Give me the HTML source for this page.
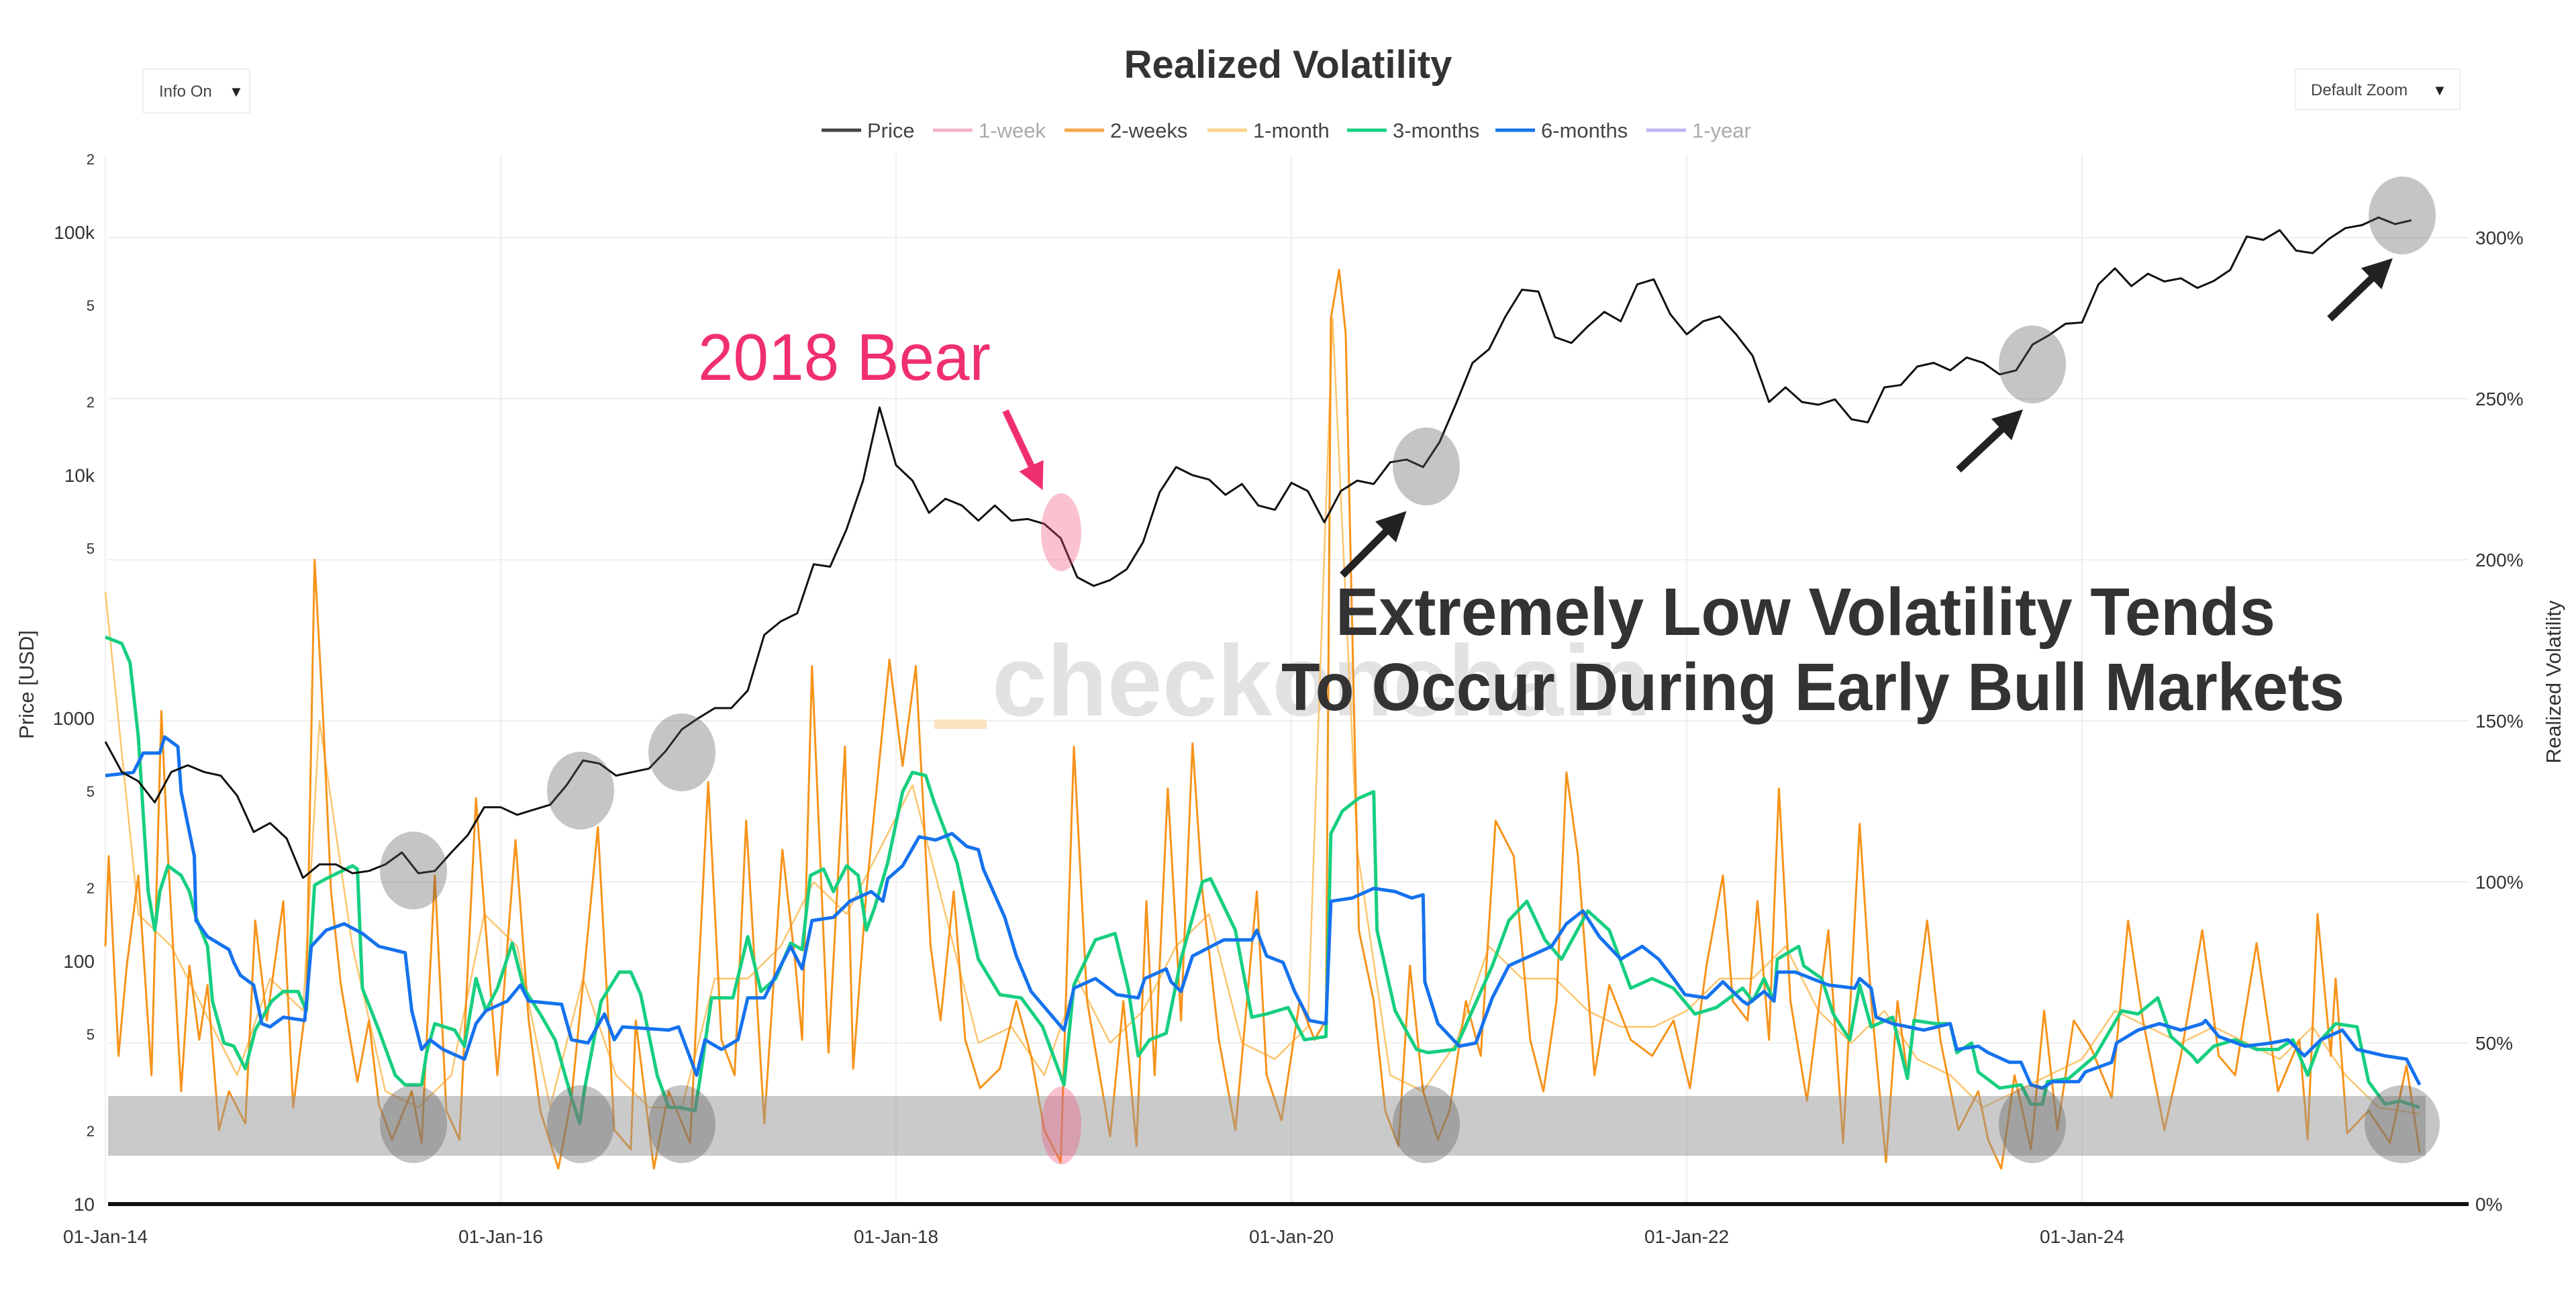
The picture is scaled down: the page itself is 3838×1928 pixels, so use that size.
<!DOCTYPE html>
<html><head><meta charset="utf-8"><title>Realized Volatility</title>
<style>
html,body{margin:0;padding:0;background:#fff;}
svg{display:block;font-family:"Liberation Sans",Arial,sans-serif;}
</style></head>
<body>
<svg id="chart" xmlns="http://www.w3.org/2000/svg" width="3838" height="1928" viewBox="0 0 3838 1928">
<rect x="0" y="0" width="3838" height="1928" fill="#fff"/>
<g id="grid"></g>
<text x="1478" y="1066" font-size="150" font-weight="bold" fill="#e2e2e2" textLength="982" lengthAdjust="spacingAndGlyphs">checkonchain</text>
<rect x="1392" y="1072" width="78" height="14" fill="#fde3c0"/>
<g id="series"></g>
<rect x="161" y="1633" width="3453" height="89" fill="rgba(150,150,150,0.5)"/>
<g id="marks">
<ellipse cx="616" cy="1297" rx="50" ry="58" fill="rgba(90,90,90,0.35)"/>
<ellipse cx="865" cy="1178" rx="50" ry="58" fill="rgba(90,90,90,0.35)"/>
<ellipse cx="1016" cy="1121" rx="50" ry="58" fill="rgba(90,90,90,0.35)"/>
<ellipse cx="2125" cy="695" rx="50" ry="58" fill="rgba(90,90,90,0.35)"/>
<ellipse cx="3028" cy="543" rx="50" ry="58" fill="rgba(90,90,90,0.35)"/>
<ellipse cx="3579" cy="321" rx="50" ry="58" fill="rgba(90,90,90,0.35)"/>
<ellipse cx="616" cy="1675" rx="50" ry="58" fill="rgba(90,90,90,0.35)"/>
<ellipse cx="865" cy="1675" rx="50" ry="58" fill="rgba(90,90,90,0.35)"/>
<ellipse cx="1016" cy="1675" rx="50" ry="58" fill="rgba(90,90,90,0.35)"/>
<ellipse cx="2125" cy="1675" rx="50" ry="58" fill="rgba(90,90,90,0.35)"/>
<ellipse cx="3028" cy="1675" rx="50" ry="58" fill="rgba(90,90,90,0.35)"/>
<ellipse cx="3579" cy="1675" rx="56" ry="58" fill="rgba(90,90,90,0.35)"/>
<ellipse cx="1581" cy="793" rx="30" ry="58" fill="rgba(240,80,120,0.35)"/>
<ellipse cx="1581" cy="1677" rx="30" ry="58" fill="rgba(240,80,120,0.35)"/>
</g>
<line x1="161" y1="1794" x2="3678" y2="1794" stroke="#111" stroke-width="6"/>
<g id="axes"></g>
<text x="1919" y="116" font-size="58" font-weight="bold" fill="#333" text-anchor="middle">Realized Volatility</text>
<g>
<rect x="213" y="103" width="159" height="65" fill="#fff" stroke="#f0f0f0" stroke-width="2"/>
<text x="237" y="144" font-size="24" fill="#444">Info On</text>
<text x="341" y="144" font-size="22" fill="#222">▼</text>
</g>
<g>
<rect x="3420" y="103" width="245" height="60" fill="#fff" stroke="#f0f0f0" stroke-width="2"/>
<text x="3443" y="142" font-size="24" fill="#444">Default Zoom</text>
<text x="3624" y="142" font-size="22" fill="#222">▼</text>
</g>
<g id="legend"></g>
<text x="1040" y="566" font-size="98" fill="#f0306e" textLength="436" lengthAdjust="spacingAndGlyphs">2018 Bear</text>
<text x="1990" y="946" font-size="100" font-weight="bold" fill="#333" textLength="1400" lengthAdjust="spacingAndGlyphs">Extremely Low Volatility Tends</text>
<text x="1909" y="1058" font-size="100" font-weight="bold" fill="#333" textLength="1584" lengthAdjust="spacingAndGlyphs">To Occur During Early Bull Markets</text>
<defs>
<marker id="ah" markerWidth="4" markerHeight="4" refX="2" refY="2" orient="auto"><path d="M0,0 L4,2 L0,4 Z" fill="#222"/></marker>
<marker id="ahp" markerWidth="4" markerHeight="4" refX="2" refY="2" orient="auto"><path d="M0,0 L4,2 L0,4 Z" fill="#f0306e"/></marker>
</defs>
<line x1="2000" y1="857" x2="2080" y2="777" stroke="#222" stroke-width="11" marker-end="url(#ah)"/>
<line x1="2918" y1="700" x2="2998" y2="625" stroke="#222" stroke-width="11" marker-end="url(#ah)"/>
<line x1="3471" y1="475" x2="3549" y2="400" stroke="#222" stroke-width="11" marker-end="url(#ah)"/>
<line x1="1498" y1="612" x2="1545" y2="712" stroke="#f0306e" stroke-width="10" marker-end="url(#ahp)"/>
<text transform="translate(50,1020) rotate(-90)" font-size="31" fill="#333" text-anchor="middle">Price [USD]</text>
<text transform="translate(3815,1016) rotate(-90)" font-size="31" fill="#333" text-anchor="middle">Realized Volatility</text>
</svg>
<script>
// x data: months since 01-Jan-14
const priceMonths = [0,1,2,3,4,5,6,7,8,9,10,11,12,13,14,15,16,17,18,19,20,21,22,23,24,25,26,27,28,29,30,31,32,33,34,35,36,37,38,39,40,41,42,43,44,45,46,47,48,49,50,51,52,53,54,55,56,57,58,59,60,61,62,63,64,65,66,67,68,69,70,71,72,73,74,75,76,77,78,79,80,81,82,83,84,85,86,87,88,89,90,91,92,93,94,95,96,97,98,99,100,101,102,103,104,105,106,107,108,109,110,111,112,113,114,115,116,117,118,119,120,121,122,123,124,125,126,127,128,129,130,131,132,133,134,135,136,137,138,139,140];
const priceValues = [800,600,550,450,600,640,600,580,480,340,370,320,
220,250,250,230,235,250,280,230,235,280,330,430,
430,400,420,440,530,670,650,580,600,620,730,900,
1000,1100,1100,1300,2200,2500,2700,4300,4200,6000,9500,19000,
11000,9500,7000,8000,7500,6500,7500,6500,6600,6300,5500,3800,
3500,3700,4100,5300,8500,10800,10000,9600,8300,9200,7500,7200,
9300,8600,6400,8600,9500,9200,11300,11600,10800,13700,19700,29000,
33000,45000,58000,57000,37000,35000,41000,47000,43000,61000,64000,46000,
38000,43000,45000,38000,31000,20000,23000,20000,19500,20500,17000,16500,
23000,23500,28000,29000,27000,30500,29000,26000,27000,34500,37700,42000,
42500,61000,71000,60000,67500,62700,64600,59000,63000,70000,96000,93000,
102000,84000,82000,94000,104000,107000,115000,108000,112000];

const sixMonthMonths = [0,1.7,2.3,3.3,3.6,4.4,4.6,5.4,5.5,6.2,7.5,7.8,8.2,9.0,9.5,10.0,10.8,12.1,12.5,13.4,14.5,15.6,16.6,18.2,18.6,19.2,19.7,20.5,21.8,22.5,23.1,24.4,25.2,25.7,27.7,28.3,29.3,30.3,30.9,31.4,34.2,34.8,35.9,36.4,37.4,38.4,39.0,40.0,41.6,42.3,42.9,44.2,45.2,46.5,47.2,47.5,48.4,49.4,50.4,51.4,52.3,53.0,53.3,54.6,55.3,56.2,57.2,58.2,58.8,60.1,61.4,62.7,63.1,64.4,64.7,65.3,66.0,67.9,69.6,69.9,70.5,71.5,72.2,73.1,74.1,74.4,75.7,77.0,78.3,79.3,80.0,80.1,80.9,82.2,83.2,84.2,85.2,86.5,87.8,88.7,89.7,90.7,92.0,93.3,94.3,95.2,95.9,97.2,98.2,99.4,99.7,100.7,101.3,101.5,102.6,103.6,104.6,106.2,106.5,107.2,107.5,108.5,110.4,112.0,112.4,113.7,114.3,115.6,116.3,116.9,117.6,118.2,119.8,120.2,121.8,122.1,123.4,124.7,126.0,127.3,127.5,128.3,129.9,131.5,132.5,133.5,134.5,135.8,136.7,138.4,139.7,140.0,140.5];
const sixMonthValues = [133,134,140,140,145,142,128,108,88,83,79,75,71,68,56,55,58,57,80,85,87,84,80,78,60,48,51,48,45,56,60,63,68,63,62,51,50,59,51,55,54,55,40,51,48,51,64,64,80,73,88,89,94,97,94,101,105,114,113,115,111,110,104,89,77,66,60,54,67,70,65,64,70,73,69,66,77,82,82,85,77,75,66,57,56,94,95,98,97,95,96,69,56,49,50,64,74,77,80,87,91,83,76,80,76,70,65,64,69,63,62,66,63,72,72,70,68,67,70,67,58,56,54,56,48,49,47,44,44,37,36,38,38,41,44,50,54,56,54,56,57,52,49,50,51,46,51,54,48,46,45,42,37];

const threeMonthMonths = [0,1.0,1.5,2.0,2.6,3.0,3.3,3.8,4.6,5.1,5.5,6.2,6.5,7.2,7.8,8.5,9.1,10.1,10.8,11.7,12.2,12.7,13.4,15.0,15.3,15.6,16.6,17.6,18.2,19.2,19.5,20.0,21.2,21.8,22.5,23.1,23.8,24.7,25.4,26.4,27.3,28.3,28.8,29.1,30.1,31.2,31.9,32.5,33.5,34.2,34.8,35.8,36.1,36.8,38.1,39.0,39.8,40.7,41.6,42.3,42.8,43.6,44.2,45.0,45.7,46.2,46.7,47.5,48.4,49.0,49.8,50.3,51.7,53.0,54.3,55.6,56.9,58.2,58.8,60.1,61.3,62.1,62.7,63.4,64.4,65.3,66.6,67.1,68.6,69.6,70.5,71.8,72.8,74.1,74.4,75.1,76.1,77.0,77.2,78.3,79.6,80.3,81.9,82.2,84.2,85.2,86.3,87.4,88.4,90.0,91.3,92.6,93.9,95.2,96.5,97.8,99.4,100.0,100.7,101.3,101.5,102.8,103.1,104.2,104.9,105.9,106.5,107.2,108.5,109.4,109.8,111.1,112.0,112.4,113.3,113.7,115.0,116.3,116.9,117.6,117.9,119.2,120.8,122.4,123.4,124.6,125.4,126.7,127.0,128.0,129.3,130.6,131.9,132.8,133.7,134.5,135.4,136.7,137.4,138.4,139.3,140.5];
const threeMonthValues = [176,174,168,145,97,85,97,105,102,97,89,80,63,50,49,42,54,63,66,66,60,99,101,105,104,67,54,40,37,37,47,56,54,49,70,60,67,81,67,59,51,33,25,36,63,72,72,65,40,30,30,29,39,64,64,83,66,70,81,79,102,104,97,105,102,85,92,106,128,134,133,125,106,76,65,64,55,37,68,82,84,67,46,51,53,76,100,101,85,58,59,61,51,52,115,122,126,128,85,60,48,47,48,51,74,88,94,82,76,91,85,67,70,67,59,61,67,63,70,63,76,80,74,70,59,51,68,55,58,39,57,56,56,47,50,41,36,37,31,31,38,39,46,60,59,64,52,46,44,49,51,48,48,51,40,51,56,55,38,31,32,30];

const twoWeekMonths = [0,0.2,0.8,1.3,2.0,2.8,3.4,3.8,4.6,5.1,5.7,6.2,6.9,7.5,8.5,9.1,9.8,10.8,11.4,12.2,12.7,13.2,13.7,14.3,15.3,16.0,16.6,17.4,18.6,19.2,20.0,20.7,21.5,22.5,23.1,23.8,24.9,25.7,26.4,27.5,28.3,29.1,29.9,30.6,30.9,31.9,32.2,33.3,34.2,35.5,36.6,37.4,38.2,38.9,40.0,41.1,41.9,42.3,42.9,43.9,44.9,45.4,46.2,47.6,48.4,49.2,50.1,50.7,51.5,52.2,53.1,54.3,55.3,56.2,57.0,58.0,58.8,59.6,61.0,61.8,62.6,63.2,63.7,64.5,65.3,66.0,66.6,67.6,68.6,69.9,70.5,71.4,72.5,73.4,74.1,74.4,74.9,75.3,76.1,77.0,77.7,78.5,79.2,80.0,80.9,81.6,82.6,83.5,84.4,85.5,86.5,87.3,88.1,88.7,89.4,90.4,91.3,92.6,93.9,95.2,96.2,97.2,98.2,98.8,99.7,100.3,101.0,101.6,102.3,103.3,104.6,105.5,106.5,107.2,108.1,108.8,109.4,110.6,111.4,112.5,113.7,114.3,115.1,115.9,116.9,117.7,118.5,119.5,120.5,121.8,122.8,123.7,125.0,126.0,127.3,128.3,129.3,130.6,131.9,133.2,133.7,134.3,135.1,135.4,136.1,137.4,138.7,139.7,140.5];
const twoWeekValues = [80,108,46,74,102,40,153,108,35,74,51,68,23,35,25,88,57,94,30,63,200,153,97,68,38,57,31,20,35,19,102,29,20,126,85,40,113,57,29,11,33,74,117,51,23,17,57,11,35,19,131,51,40,119,25,110,74,51,167,47,142,42,97,169,136,167,80,57,97,51,36,42,63,46,23,13,142,63,21,63,18,94,40,129,57,143,97,51,23,97,40,26,63,51,57,275,290,270,85,63,29,18,74,35,20,29,63,46,119,108,51,35,63,134,108,40,68,51,46,57,36,74,102,63,57,94,51,129,63,32,85,19,118,63,13,63,40,88,51,23,35,20,11,40,17,60,23,57,49,33,88,57,23,46,85,46,40,81,35,51,20,90,46,70,22,29,19,43,16];

const oneMonthMonths = [0,2,4,6,8,10,12,13,15,17,19,21,23,25,27,29,31,33,35,37,39,41,43,45,47,49,51,53,55,57,59,61,63,65,67,69,71,73,74.5,76,78,80,82,84,86,88,90,92,94,96,98,100,102,104,106,108,110,112,114,116,118,120,122,124,126,128,130,132,134,136,138,140.5];
const oneMonthValues = [190,90,80,60,40,70,60,150,80,35,30,40,90,80,30,70,40,30,30,70,70,80,100,90,110,130,90,50,55,40,70,50,60,80,90,50,45,55,275,110,40,35,50,80,70,70,60,55,55,60,70,70,80,60,50,60,45,40,30,35,40,45,60,55,50,55,50,45,55,40,30,28];

const xTickLabels = ["01-Jan-14","01-Jan-16","01-Jan-18","01-Jan-20","01-Jan-22","01-Jan-24"];
const xTickMonths = [0,24,48,72,96,120];
const rightTickValues = [0,50,100,150,200,250,300];
const leftTickValues = [10,20,50,100,200,500,1000,5000,10000,20000,50000,100000,200000];
const leftTickLabels = ["10","2","5","100","2","5","1000","5","10k","2","5","100k","2"];

const NS = "http://www.w3.org/2000/svg";
const X0 = 157, PX_PER_MONTH = 294.5/12, Y0 = 1794;
function xScale(m){ return X0 + m*PX_PER_MONTH; }
function yPrice(p){ return Y0 - (Math.log10(p)-1)*362; }
function yVol(v){ return Y0 - v*4.8; }
function mk(tag, attrs, parent){ const e=document.createElementNS(NS,tag); for(const k in attrs) e.setAttribute(k,attrs[k]); parent.appendChild(e); return e; }
function pathFrom(xs, ys, fy){ return xs.map((m,i)=>(i?"L":"M")+xScale(m).toFixed(1)+","+fy(ys[i]).toFixed(1)).join(" "); }

const grid = document.getElementById("grid");
rightTickValues.forEach(v=>{ if(v===0) return;
  const l = mk("line",{x1:161,x2:3678,y1:yVol(v),y2:yVol(v),stroke:"#efefef","stroke-width":2},grid);
  
  
});
xTickMonths.forEach(m=>{
  const l = mk("line",{x1:xScale(m),x2:xScale(m),y1:230,y2:1794,stroke:"#efefef","stroke-width":2},grid);
  
  
});

const series = document.getElementById("series");
const s1 = mk("path",{d:pathFrom(oneMonthMonths,oneMonthValues,yVol),fill:"none",stroke:"#fbc56e","stroke-width":2.5,"stroke-linejoin":"round"},series);


const s2 = mk("path",{d:pathFrom(twoWeekMonths,twoWeekValues,yVol),fill:"none",stroke:"#f7931a","stroke-width":3,"stroke-linejoin":"round"},series);


const s3 = mk("path",{d:pathFrom(threeMonthMonths,threeMonthValues,yVol),fill:"none",stroke:"#17cf80","stroke-width":5,"stroke-linejoin":"round"},series);


const s4 = mk("path",{d:pathFrom(sixMonthMonths,sixMonthValues,yVol),fill:"none",stroke:"#1572ee","stroke-width":5,"stroke-linejoin":"round"},series);


const sp = mk("path",{d:pathFrom(priceMonths,priceValues,yPrice),fill:"none",stroke:"#111","stroke-width":3,"stroke-linejoin":"round"},series);



const axes = document.getElementById("axes");
xTickLabels.forEach((t,i)=>{
  const e = mk("text",{x:xScale(xTickMonths[i]),y:1852,"font-size":28,fill:"#333","text-anchor":"middle"},axes);
  e.textContent = t;
  
  
});
rightTickValues.forEach(v=>{
  const e = mk("text",{x:3688,y:yVol(v)+10,"font-size":28,fill:"#333"},axes);
  e.textContent = v+"%";
  
  
});
leftTickValues.forEach((v,i)=>{
  const big = leftTickLabels[i].length>1;
  const e = mk("text",{x:141,y:yPrice(v)+(big?10:8),"font-size":big?28:22,fill:"#333","text-anchor":"end"},axes);
  e.textContent = leftTickLabels[i];
  
  
});

const legendNames = ["Price","1-week","2-weeks","1-month","3-months","6-months","1-year"];
const legendColors = ["#444","#f6b3c9","#f7a54a","#fbd38a","#17cf80","#1572ee","#c2b3f2"];
const legendText = ["#444","#aaa","#444","#444","#444","#444","#aaa"];
const legendX = [1224,1390,1586,1799,2007,2228,2453];
const legend = document.getElementById("legend");
legendNames.forEach((n,i)=>{
  const g = mk("g",{},legend);
  
  
  mk("line",{x1:legendX[i],x2:legendX[i]+59,y1:194,y2:194,stroke:legendColors[i],"stroke-width":5},g);
  const t = mk("text",{x:legendX[i]+68,y:205,"font-size":31,fill:legendText[i]},g);
  t.textContent = n;
});
</script>
</body></html>
